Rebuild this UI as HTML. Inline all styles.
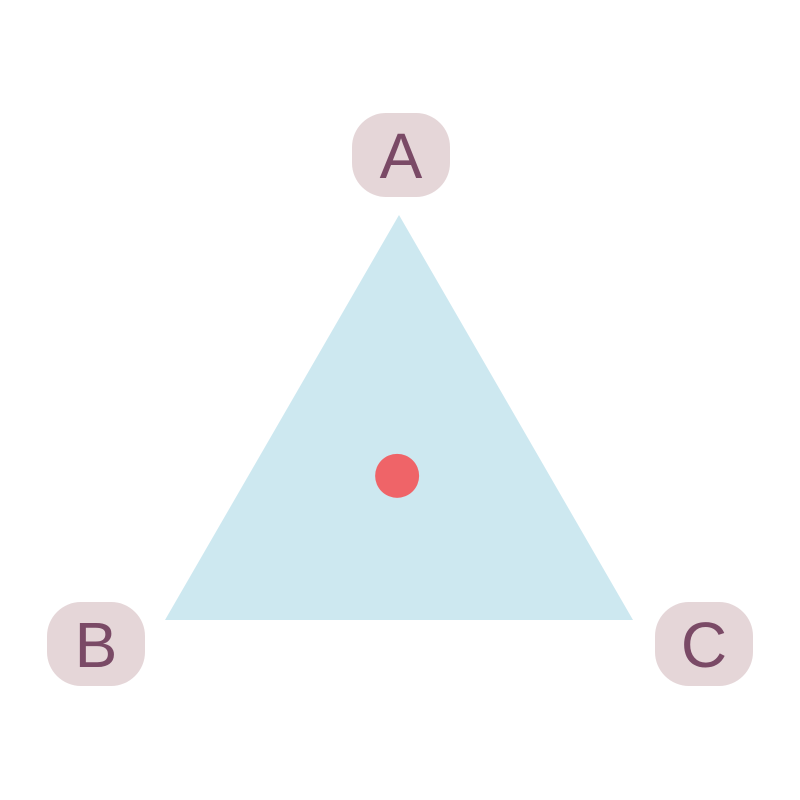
<!DOCTYPE html>
<html><head><meta charset="utf-8"><style>
html,body{margin:0;padding:0;background:#fff;}
svg{display:block;}
</style></head><body>
<svg id="chart" width="800" height="800" viewBox="0 0 800 800">
  <polygon id="tri" fill="#cde8f0"></polygon>
  <g id="points"></g>
  <g id="labels"></g>
</svg>
<script>
const vertexLabels = ["A", "B", "C"];
const pointA = [0.356];
const pointB = [0.326];
const pointC = [0.318];

const NS = "http://www.w3.org/2000/svg";
const VA = [399, 215], VB = [165, 620], VC = [633, 620];
function project(a, b, c) {
  const s = a + b + c;
  a /= s; b /= s; c /= s;
  return [a*VA[0] + b*VB[0] + c*VC[0], a*VA[1] + b*VB[1] + c*VC[1]];
}
document.getElementById('tri').setAttribute('points', [VA, VB, VC].map(p => p.join(',')).join(' '));

const pg = document.getElementById('points');
for (let i = 0; i < pointA.length; i++) {
  const [x, y] = project(pointA[i], pointB[i], pointC[i]);
  const c = document.createElementNS(NS, 'circle');
  c.setAttribute('cx', x); c.setAttribute('cy', y); c.setAttribute('r', 22);
  c.setAttribute('fill', '#ef6468');
  
  
  pg.appendChild(c);
}

const lg = document.getElementById('labels');
const labelCenters = [[401, 155], [96, 644], [704, 644]];
vertexLabels.forEach((t, i) => {
  const [cx, cy] = labelCenters[i];
  const g = document.createElementNS(NS, 'g');
  
  
  const r = document.createElementNS(NS, 'rect');
  r.setAttribute('x', cx - 49); r.setAttribute('y', cy - 42);
  r.setAttribute('width', 98); r.setAttribute('height', 84);
  r.setAttribute('rx', 34); r.setAttribute('fill', '#e5d6d8');
  g.appendChild(r);
  const tx = document.createElementNS(NS, 'text');
  tx.setAttribute('x', cx); tx.setAttribute('y', cy + 23);
  tx.setAttribute('text-anchor', 'middle');
  tx.setAttribute('font-family', '"Liberation Sans", sans-serif');
  tx.setAttribute('font-size', '64');
  tx.setAttribute('fill', '#7a4a66');
  tx.textContent = t;
  g.appendChild(tx);
  lg.appendChild(g);
});
</script>
</body></html>
